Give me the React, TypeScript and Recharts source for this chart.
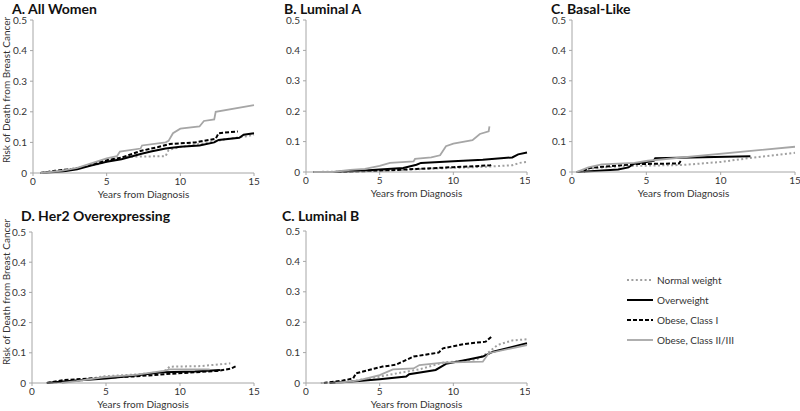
import React from 'react';
import { LineChart, Line, XAxis, YAxis, Label } from 'recharts';

type Pt = [number, number];

// years from diagnosis, cumulative risk
const aNormal: Pt[] = [[0.5, 0], [2, 0.008], [3.5, 0.02], [4.5, 0.03], [5.5, 0.045], [6.3, 0.053], [9, 0.055], [9.2, 0.075], [10, 0.085], [12, 0.1], [13, 0.11], [14.5, 0.12], [15, 0.125]];
const aOver: Pt[] = [[0.5, 0], [2, 0.005], [3, 0.012], [4, 0.025], [5, 0.037], [6, 0.045], [7.3, 0.062], [8, 0.07], [9, 0.08], [10, 0.086], [11.3, 0.09], [12.3, 0.1], [12.6, 0.108], [14, 0.115], [14.3, 0.125], [15, 0.13]];
const aObese1: Pt[] = [[0.5, 0], [1.5, 0.007], [3, 0.015], [4, 0.028], [5, 0.042], [6, 0.05], [7.3, 0.072], [8.5, 0.085], [9.3, 0.095], [11, 0.1], [12.4, 0.112], [12.6, 0.13], [13.9, 0.136]];
const aObese23: Pt[] = [[0.5, 0], [2, 0.008], [3, 0.017], [4, 0.032], [5, 0.048], [5.7, 0.055], [5.9, 0.07], [7.3, 0.08], [7.4, 0.09], [9, 0.1], [9.2, 0.105], [9.5, 0.13], [10, 0.145], [11.3, 0.152], [11.6, 0.17], [12.3, 0.175], [12.4, 0.2], [15, 0.222]];

const bNormal: Pt[] = [[0.5, 0], [3, 0.002], [5, 0.004], [7, 0.008], [9, 0.012], [11, 0.015], [12.5, 0.018], [14, 0.022], [14.5, 0.03], [15, 0.033]];
const bOver: Pt[] = [[0.5, 0], [2, 0], [4, 0.005], [5, 0.008], [6.6, 0.013], [7.5, 0.024], [7.8, 0.03], [10, 0.035], [12, 0.04], [14, 0.048], [14.4, 0.058], [15, 0.064]];
const bObese1: Pt[] = [[0.5, 0], [2, 0], [5, 0.004], [7.5, 0.01], [10, 0.016], [11.5, 0.019], [12.5, 0.022], [12.6, 0.025]];
const bObese23: Pt[] = [[0.5, 0], [1.8, 0], [3, 0.007], [4, 0.01], [5, 0.02], [5.7, 0.03], [7.3, 0.035], [7.4, 0.043], [8.5, 0.048], [9.1, 0.055], [9.5, 0.085], [10, 0.093], [11.3, 0.105], [11.8, 0.125], [12.4, 0.134], [12.45, 0.15]];

const cNormal: Pt[] = [[0.5, 0], [1, 0.01], [2, 0.015], [4, 0.02], [7.4, 0.023], [10, 0.033], [11.8, 0.045], [15, 0.063]];
const cOver: Pt[] = [[0.3, 0], [1.5, 0.003], [3.1, 0.008], [3.8, 0.015], [4.1, 0.026], [5.5, 0.037], [5.6, 0.045], [12, 0.052]];
const cObese1: Pt[] = [[0.8, 0], [1, 0.012], [2, 0.017], [4.2, 0.026], [7.2, 0.028], [7.35, 0.039]];
const cObese23: Pt[] = [[0.3, 0], [1.1, 0.015], [2, 0.025], [4.2, 0.03], [5.1, 0.037], [15, 0.083]];

const dNormal: Pt[] = [[1, 0], [2, 0.003], [3.5, 0.01], [4.8, 0.022], [7, 0.028], [8.9, 0.037], [9.3, 0.054], [11.4, 0.056], [13.4, 0.065]];
const dOver: Pt[] = [[1, 0], [2.5, 0.007], [5, 0.015], [7, 0.025], [8.9, 0.036], [11, 0.038], [12.7, 0.043]];
const dObese1: Pt[] = [[1, 0], [2.2, 0.01], [5, 0.018], [7, 0.022], [9.8, 0.032], [12.5, 0.04], [13.4, 0.047], [13.8, 0.056]];
const dObese23: Pt[] = [[2, 0], [3, 0.006], [4.8, 0.019], [7, 0.027], [8.9, 0.04], [9.3, 0.045], [12, 0.045]];

const eNormal: Pt[] = [[1, 0], [3, 0.005], [5, 0.021], [6.2, 0.032], [7.7, 0.045], [9.3, 0.067], [11.6, 0.078], [12.3, 0.098], [13, 0.125], [14, 0.14], [15, 0.144]];
const eOver: Pt[] = [[1.6, 0], [3, 0.004], [5, 0.012], [6.8, 0.021], [7, 0.029], [8.8, 0.043], [9.5, 0.063], [11.1, 0.078], [12, 0.087], [12.7, 0.103], [15, 0.131]];
const eObese1: Pt[] = [[1.2, 0], [2.5, 0.008], [3.2, 0.015], [3.4, 0.032], [5.2, 0.054], [6.1, 0.06], [7.3, 0.087], [9, 0.1], [9.3, 0.114], [10.7, 0.128], [12.2, 0.136], [12.6, 0.153]];
const eObese23: Pt[] = [[2, 0], [3.5, 0.008], [5, 0.026], [5.9, 0.045], [7.3, 0.048], [7.7, 0.059], [9.3, 0.067], [12, 0.07], [12.4, 0.098], [15, 0.125]];

const seriesNames = ['Normal weight', 'Overweight', 'Obese, Class I', 'Obese, Class II/III'];
const xTicks = [0, 5, 10, 15];
const yTicks = [0, 0.1, 0.2, 0.3, 0.4, 0.5];

const FONT = 'Lato, "Open Sans", sans-serif';
const AXIS = '#a6a6a6';
const TEXT = '#333';

const STYLES = [
  { stroke: '#a0a0a0', strokeWidth: 2, dash: '2 2.4' },
  { stroke: '#000', strokeWidth: 2, dash: undefined },
  { stroke: '#000', strokeWidth: 2, dash: '4 2' },
  { stroke: '#a6a6a6', strokeWidth: 1.8, dash: undefined },
];

const toRows = (pts: Pt[]) => pts.map(([x, y]) => ({ x, y }));

interface PanelProps {
  series: Pt[][];
  left: number;
  top: number;
  width: number;
  height: number;
  yWidth: number;
  margin: { top: number; right: number; left: number; bottom: number };
}

const Panel: React.FC<PanelProps> = ({ series, left, top, width, height, yWidth, margin }) => (
  <div style={{ position: 'absolute', left, top }}>
    <LineChart width={width} height={height} margin={margin}>
      <XAxis
        type="number"
        dataKey="x"
        domain={[0, 15]}
        ticks={xTicks}
        height={27}
        stroke={AXIS}
        tickSize={3}
        tickMargin={2}
        tick={{ fontSize: 10, fill: TEXT, fontFamily: FONT }}
        allowDuplicatedCategory={false}
      >
        <Label value="Years from Diagnosis" position="insideBottom" offset={2} style={{ fontSize: 10, fill: TEXT, fontFamily: FONT }} />
      </XAxis>
      <YAxis
        type="number"
        domain={[0, 0.5]}
        ticks={yTicks}
        width={yWidth}
        stroke={AXIS}
        tickSize={3}
        tickMargin={3}
        tick={{ fontSize: 10, fill: TEXT, fontFamily: FONT }}
      />
      {series.map((pts, i) => (
        <Line
          key={seriesNames[i]}
          data={toRows(pts)}
          dataKey="y"
          type="linear"
          stroke={STYLES[i].stroke}
          strokeWidth={STYLES[i].strokeWidth}
          strokeDasharray={STYLES[i].dash}
          dot={false}
          isAnimationActive={false}
        />
      ))}
    </LineChart>
  </div>
);

const Title: React.FC<{ text: string; left: number; top: number }> = ({ text, left, top }) => (
  <div style={{ position: 'absolute', left, top, fontFamily: FONT, fontWeight: 700, fontSize: 14, lineHeight: '17px', color: '#111', whiteSpace: 'nowrap' }}>
    {text}
  </div>
);

const YTitle: React.FC<{ cx: number; cy: number }> = ({ cx, cy }) => (
  <div
    style={{
      position: 'absolute',
      left: cx,
      top: cy,
      transform: 'translate(-50%, -50%) rotate(-90deg)',
      fontFamily: FONT,
      fontSize: 10,
      lineHeight: '10px',
      color: TEXT,
      whiteSpace: 'nowrap',
    }}
  >
    Risk of Death from Breast Cancer
  </div>
);

const LegendBox: React.FC = () => (
  <div style={{ position: 'absolute', left: 626, top: 270, fontFamily: FONT, fontSize: 10, color: TEXT }}>
    {seriesNames.map((name, i) => (
      <div key={name} style={{ display: 'flex', alignItems: 'center', height: 20 }}>
        <svg width={28} height={6} style={{ marginRight: 3 }}>
          <line x1={1} y1={3} x2={27} y2={3} stroke={STYLES[i].stroke} strokeWidth={STYLES[i].strokeWidth} strokeDasharray={STYLES[i].dash} />
        </svg>
        <span>{name}</span>
      </div>
    ))}
  </div>
);

export default function App() {
  return (
    <div style={{ position: 'absolute', left: 0, top: 0, width: 800, height: 411, background: '#fff', overflow: 'hidden' }}>
      <Panel series={[aNormal, aOver, aObese1, aObese23]} left={0} top={0} width={265} height={200} yWidth={33} margin={{ top: 20, right: 11, left: 0, bottom: 0 }} />
      <Panel series={[bNormal, bOver, bObese1, bObese23]} left={265} top={0} width={265} height={200} yWidth={41} margin={{ top: 20, right: 3, left: 0, bottom: 1 }} />
      <Panel series={[cNormal, cOver, cObese1, cObese23]} left={530} top={0} width={270} height={200} yWidth={42} margin={{ top: 20, right: 5, left: 0, bottom: 1 }} />
      <Panel series={[dNormal, dOver, dObese1, dObese23]} left={0} top={200} width={265} height={211} yWidth={32} margin={{ top: 32, right: 11, left: 0, bottom: 1 }} />
      <Panel series={[eNormal, eOver, eObese1, eObese23]} left={265} top={200} width={265} height={211} yWidth={41} margin={{ top: 31, right: 3, left: 0, bottom: 1 }} />

      <Title text="A. All Women" left={12} top={0} />
      <Title text="B. Luminal A" left={284} top={0} />
      <Title text="C. Basal-Like" left={551} top={0} />
      <Title text="D. Her2 Overexpressing" left={21} top={207} />
      <Title text="C. Luminal B" left={282} top={207} />

      <YTitle cx={6} cy={90} />
      <YTitle cx={6} cy={292} />

      <LegendBox />
    </div>
  );
}
